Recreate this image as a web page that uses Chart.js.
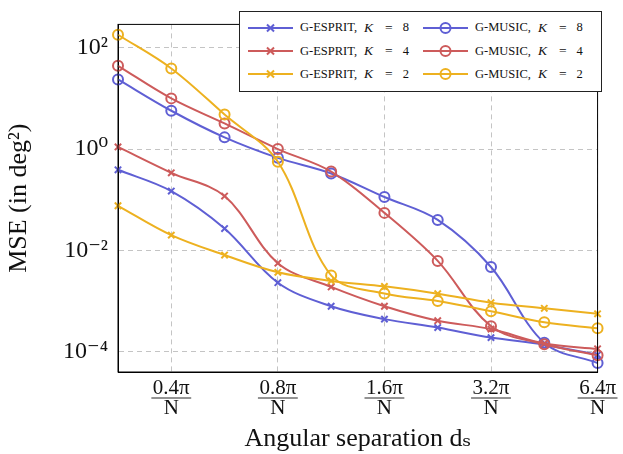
<!DOCTYPE html>
<html>
<head>
<meta charset="utf-8">
<script src="https://cdn.jsdelivr.net/npm/chart.js@4.4.1/dist/chart.umd.min.js"></script>
<style>
  html, body { margin: 0; padding: 0; background: #fff; }
  #wrap { position: relative; width: 623px; height: 454px; }
  #legend {
    position: absolute; left: 239px; top: 11px; width: 361px; height: 79px;
    border: 1px solid #222; background: #fff;
    font-family: "Liberation Serif", "DejaVu Serif", serif; font-size: 12.5px; color: #111;
  }
  .item { position: absolute; display: flex; align-items: center; height: 16px; }
  .item svg { margin-right: 7px; }
  .item i { margin: 0 12px 0 7px; font-size: 13.5px; }
  .item .eq { margin-right: 10px; font-size: 13.5px; }
</style>
</head>
<body>
<div id="wrap">
  <canvas id="c" width="623" height="454"></canvas>
  <div id="legend"></div>
</div>
<script>
// x positions (only every other one carries a label), in units of pi/N
const separations = ['', '0.4π', '', '0.8π', '', '1.6π', '', '3.2π', '', '6.4π']

// MSE in deg^2
const espritK8 = [0.39, 0.148, 0.027, 0.0023, 0.00079, 0.00044, 0.0003, 0.00019, 0.000138, 0.000087]
const espritK4 = [1.1, 0.34, 0.118, 0.0056, 0.0019, 0.00079, 0.00041, 0.00028, 0.000145, 0.000114]
const espritK2 = [0.076, 0.020, 0.0081, 0.0037, 0.0025, 0.00195, 0.0014, 0.00093, 0.00072, 0.00056]
const musicK8 = [23.7, 5.7, 1.7, 0.67, 0.33, 0.113, 0.04, 0.0047, 0.00015, 0.00006]
const musicK4 = [44, 10, 3.2, 1.0, 0.36, 0.055, 0.0062, 0.00032, 0.00014, 0.000085]
const musicK2 = [180, 39, 4.8, 0.56, 0.0032, 0.00141, 0.001, 0.00063, 0.00038, 0.00029]

const yTicks = [1e-4, 1e-2, 1, 1e2]

const BLUE = "#5f5fd4"
const RED = "#cd5b5b"
const YELLOW = "#edb120"
const SERIF = "'Liberation Serif', 'DejaVu Serif', serif"
const GRID = "#c4c4c4"

// legend entries, pgfplots order (2 columns)
const series = [
  { name: "G-ESPRIT", k: 8, data: espritK8, color: BLUE, mark: "crossRot", col: 0, row: 0 },
  { name: "G-MUSIC", k: 8, data: musicK8, color: BLUE, mark: "circle", col: 1, row: 0 },
  { name: "G-ESPRIT", k: 4, data: espritK4, color: RED, mark: "crossRot", col: 0, row: 1 },
  { name: "G-MUSIC", k: 4, data: musicK4, color: RED, mark: "circle", col: 1, row: 1 },
  { name: "G-ESPRIT", k: 2, data: espritK2, color: YELLOW, mark: "crossRot", col: 0, row: 2 },
  { name: "G-MUSIC", k: 2, data: musicK2, color: YELLOW, mark: "circle", col: 1, row: 2 }
]

const sup = { "-": "⁻", "0": "⁰", "1": "¹", "2": "²", "3": "³", "4": "⁴" }

// fraction bars under the x tick labels + closed box around the plot
const fracPlugin = {
  id: "frac",
  afterDraw(chart) {
    const ctx = chart.ctx
    const xs = chart.scales.x
    const area = chart.chartArea
    ctx.save()
    ctx.font = "21px " + SERIF
    ctx.strokeStyle = "#111"
    ctx.lineWidth = 0.9
    const barY = 398
    separations.forEach((s, i) => {
      if (!s) return
      const x = xs.getPixelForTick(i)
      const w = ctx.measureText(s).width + 3
      ctx.beginPath()
      ctx.moveTo(x - w / 2, barY)
      ctx.lineTo(x + w / 2, barY)
      ctx.stroke()
    })
    ctx.strokeStyle = "#000"
    ctx.lineWidth = 1
    ctx.strokeRect(area.left, area.top, area.right - area.left, area.bottom - area.top)
    ctx.restore()
  }
}

const datasets = series.map((s, i) => ({
  label: s.name + ", K = " + s.k,
  data: s.data,
  borderColor: s.color,
  backgroundColor: "transparent",
  pointBorderColor: s.color,
  pointBackgroundColor: "transparent",
  pointStyle: s.mark,
  pointRadius: s.mark === "circle" ? 5 : 4.5,
  pointBorderWidth: 2,
  borderWidth: 2,
  tension: 0.35,
  clip: false,
  order: series.length - i
}))

new Chart(document.getElementById("c"), {
  type: "line",
  data: { labels: separations, datasets: datasets },
  options: {
    responsive: false,
    animation: false,
    layout: { padding: { top: 10, right: 21, left: 0, bottom: 0 } },
    plugins: { legend: { display: false }, tooltip: { enabled: false } },
    scales: {
      x: {
        type: "category",
        offset: false,
        grid: {
          drawTicks: false,
          color: (c) => (c.tick && c.tick.label ? GRID : "transparent"),
          lineWidth: 1
        },
        border: { display: true, color: "#000", dash: [5, 4] },
        ticks: {
          autoSkip: false,
          maxRotation: 0,
          padding: 7,
          color: "#111",
          font: { family: SERIF, size: 21, lineHeight: 0.93 },
          callback: (v, i) => (separations[i] ? [separations[i], "N"] : "")
        },
        title: {
          display: true,
          text: "Angular separation dₛ",
          color: "#111",
          font: { family: SERIF, size: 26 },
          padding: { top: 0, bottom: -1 }
        },
        afterFit: (scale) => { scale.height = 82 }
      },
      y: {
        type: "logarithmic",
        min: Math.pow(10, -4.4),
        max: Math.pow(10, 2.46),
        grid: { drawTicks: false, color: GRID, lineWidth: 1 },
        border: { display: true, color: "#000", dash: [5, 4] },
        afterBuildTicks: (scale) => { scale.ticks = yTicks.map((v) => ({ value: v })) },
        ticks: {
          padding: 10,
          color: "#111",
          font: { family: SERIF, size: 24 },
          callback: (v) => "10" + String(Math.round(Math.log10(v))).split("").map((ch) => sup[ch]).join("")
        },
        title: {
          display: true,
          text: "MSE (in deg²)",
          color: "#111",
          font: { family: SERIF, size: 26 },
          padding: { top: 4, bottom: 0 }
        },
        afterFit: (scale) => { scale.width = 118 }
      }
    }
  },
  plugins: [fracPlugin]
})

// legend, laid out like the pgfplots one
const legend = document.getElementById("legend")
series.forEach((s) => {
  const div = document.createElement("div")
  div.className = "item"
  div.style.left = (s.col === 0 ? 8 : 183) + "px"
  div.style.top = (7.7 + s.row * 23.3) + "px"
  const mark = s.mark === "circle"
    ? `<circle cx="22.5" cy="8" r="5" fill="none" stroke="${s.color}" stroke-width="2"/>`
    : `<path d="M19 4.5 L26 11.5 M26 4.5 L19 11.5" stroke="${s.color}" stroke-width="2"/>`
  div.innerHTML =
    `<svg width="45" height="16"><line x1="0" y1="8" x2="45" y2="8" stroke="${s.color}" stroke-width="2"/>${mark}</svg>` +
    `<span>${s.name},</span><i>K</i><span class="eq">=</span><span>${s.k}</span>`
  legend.appendChild(div)
})
</script>
</body>
</html>
